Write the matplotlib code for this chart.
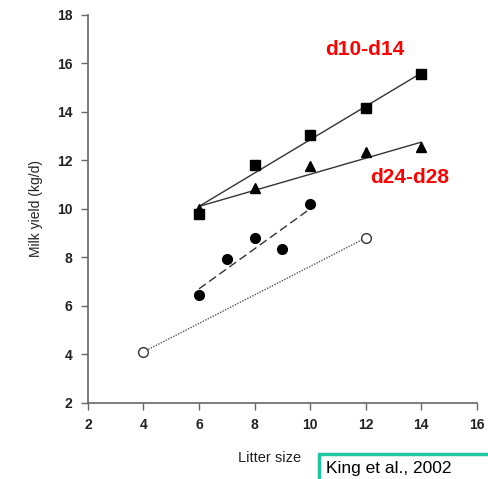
import matplotlib

matplotlib.use("Agg")
import matplotlib.pyplot as plt
from matplotlib.patches import Rectangle

plt.rcParams["font.family"] = ["Liberation Sans", "DejaVu Sans"]

# observed points (litter size -> milk yield, kg/d)
sq_x = [6, 8, 10, 12, 14]
sq_y = [9.8, 11.8, 13.05, 14.15, 15.55]
tri_x = [6, 8, 10, 12, 14]
tri_y = [10.0, 10.85, 11.75, 12.35, 12.55]
dot_x = [6, 7, 8, 9, 10]
dot_y = [6.45, 7.95, 8.8, 8.35, 10.2]
open_x = [4, 12]
open_y = [4.1, 8.8]

# fitted regression lines (end points)
sq_fit_x, sq_fit_y = [6, 14], [10.1, 15.6]
tri_fit_x, tri_fit_y = [6, 14], [10.1, 12.75]
dot_fit_x, dot_fit_y = [6, 10], [6.7, 10.0]
open_fit_x, open_fit_y = [4, 12], [4.1, 8.8]

x_ticks = [2, 4, 6, 8, 10, 12, 14, 16]
y_ticks = [2, 4, 6, 8, 10, 12, 14, 16, 18]

W, H = 488, 479
fig = plt.figure(figsize=(W / 100, H / 100), dpi=100)
ax = fig.add_axes([0.180, 0.159, 0.797, 0.810])

ax.plot(sq_fit_x, sq_fit_y, color="#333333", lw=1.0)
ax.plot(tri_fit_x, tri_fit_y, color="#333333", lw=1.0)
ax.plot(dot_fit_x, dot_fit_y, color="#333333", lw=1.0, ls=(0, (6, 3)))
ax.plot(open_fit_x, open_fit_y, color="#555555", lw=1.0, ls=(0, (1, 1)))

ax.plot(sq_x, sq_y, "s", color="black", ms=6.5, ls="none")
ax.plot(tri_x, tri_y, "^", color="black", ms=7, ls="none")
ax.plot(dot_x, dot_y, "o", color="black", ms=7, ls="none")
ax.plot(open_x, open_y, "o", mfc="white", mec="#333333", mew=1.0, ms=7, ls="none")

ax.text(11.96, 16.56, "d10-d14", color="red", fontsize=15, fontweight="bold", ha="center", va="center")
ax.text(13.6, 11.28, "d24-d28", color="red", fontsize=15, fontweight="bold", ha="center", va="center")

ax.set_xlim(2, 16)
ax.set_ylim(2, 18)
ax.set_xticks(x_ticks)
ax.set_yticks(y_ticks)
for s in ("top", "right"):
    ax.spines[s].set_visible(False)
for s in ("left", "bottom"):
    ax.spines[s].set_color("#666666")
    ax.spines[s].set_linewidth(1.2)
ax.tick_params(direction="out", length=5, width=1.0, color="#666666", labelsize=10, pad=6)
for lab in ax.get_xticklabels() + ax.get_yticklabels():
    lab.set_fontweight("bold")
    lab.set_color("#222222")

ax.set_ylabel("Milk yield (kg/d)", fontsize=10, color="#222222", labelpad=10)
fig.text(270 / W, 1 - 458 / H, "Litter size", fontsize=10.5, color="#222222", ha="center", va="center")

# citation box, running off the right and bottom edges
fig.patches.append(Rectangle((319 / W, -5 / H), 175 / W, (H - 454 + 5) / H, transform=fig.transFigure,
                             fc="white", ec="#1fc79e", lw=2.5, clip_on=False))
fig.text(326 / W, 1 - 468 / H, "King et al., 2002", fontsize=12.5, color="black", ha="left", va="center")

fig.savefig("out.png", dpi=100)
